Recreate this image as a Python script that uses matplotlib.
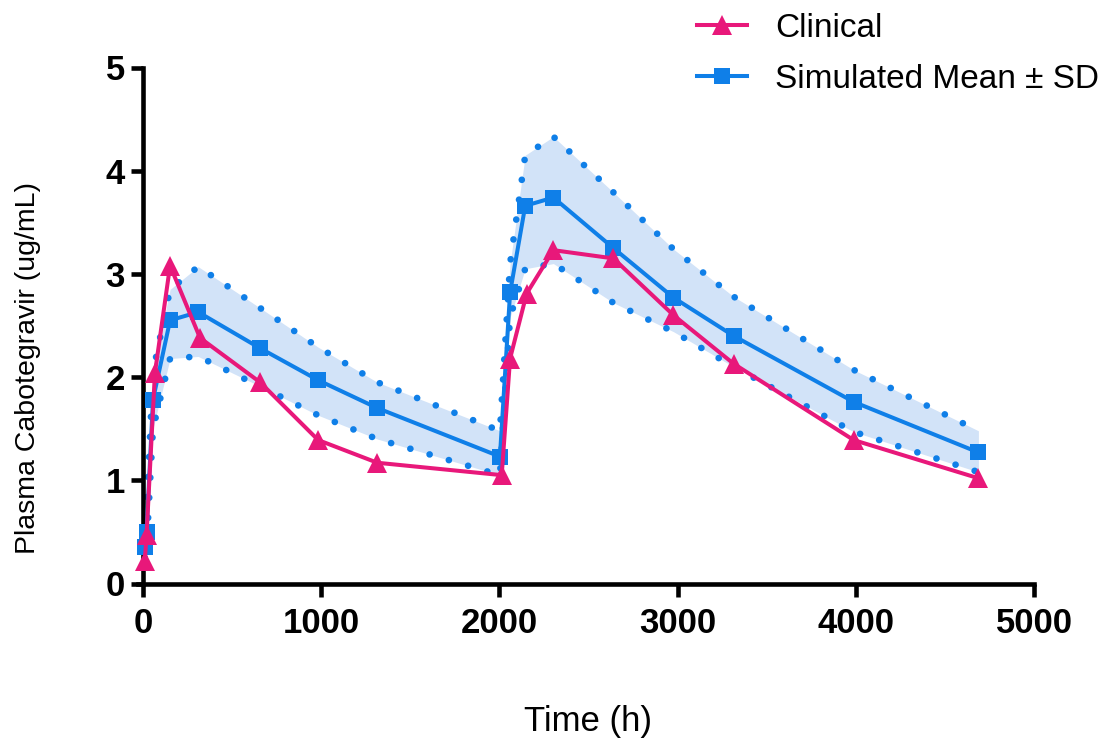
import matplotlib
matplotlib.use("Agg")
import matplotlib.pyplot as plt
from matplotlib.lines import Line2D

plt.rcParams['font.family'] = ['Liberation Sans', 'DejaVu Sans']

# ---- data ----
clin_t = [10, 20, 67, 152, 320, 657, 983, 1315, 2013, 2060, 2153, 2303, 2640, 2977, 3314, 3988, 4688]
clin_v = [0.22, 0.47, 2.04, 3.08, 2.38, 1.95, 1.39, 1.17, 1.05, 2.18, 2.81, 3.23, 3.15, 2.60, 2.13, 1.39, 1.02]

sim_t = [10, 20, 56, 152, 310, 657, 983, 1315, 2003, 2060, 2145, 2303, 2640, 2977, 3314, 3988, 4688]
sim_mean = [0.35, 0.50, 1.78, 2.55, 2.63, 2.28, 1.97, 1.70, 1.23, 2.82, 3.66, 3.74, 3.25, 2.77, 2.40, 1.76, 1.27]
sim_upper = [0.45, 0.70, 2.05, 2.85, 3.07, 2.67, 2.29, 1.95, 1.48, 3.10, 4.15, 4.33, 3.79, 3.24, 2.78, 2.07, 1.48]
sim_lower = [0.25, 0.35, 1.50, 2.18, 2.20, 1.91, 1.63, 1.40, 1.05, 2.58, 3.05, 3.10, 2.72, 2.44, 2.10, 1.47, 1.08]

x_ticks = [0, 1000, 2000, 3000, 4000, 5000]
y_ticks = [0, 1, 2, 3, 4, 5]

PINK = '#e8187a'
BLUE = '#0f7fe8'
FILL = '#d2e3f8'

W, H = 1104, 740
fig = plt.figure(figsize=(W / 100, H / 100), dpi=100)
ax = fig.add_axes([138 / W, 1 - 583.5 / H, (1034 - 138) / W, (583.5 - 67.5) / H])

ax.fill_between(sim_t, sim_lower, sim_upper, color=FILL, lw=0, zorder=1)
dot = (0, (0.01, 3.0))
for band in (sim_upper, sim_lower):
    ax.plot(sim_t, band, color=BLUE, lw=4.8, linestyle=dot, dash_capstyle='round',
            zorder=2, clip_on=False)
ax.plot(sim_t, sim_mean, color=BLUE, lw=2.9, marker='s', markersize=11,
        markeredgewidth=0, zorder=3, clip_on=False)
ax.plot(clin_t, clin_v, color=PINK, lw=2.9, marker='^', markersize=15,
        markeredgewidth=0, zorder=4, clip_on=False)

ax.set_xlim(-28, 5000)
ax.set_ylim(0, 5)
ax.spines['left'].set_position(('data', 0))
for s in ('top', 'right'):
    ax.spines[s].set_visible(False)
for s in ('left', 'bottom'):
    ax.spines[s].set_linewidth(3.3)
ax.set_xticks(x_ticks)
ax.set_yticks(y_ticks)
ax.set_xticklabels([str(v) for v in x_ticks])
ax.set_yticklabels([str(v) for v in y_ticks])
ax.tick_params(direction='out', length=9, width=3.3, labelsize=25)
ax.tick_params(axis='x', pad=8)
ax.tick_params(axis='y', pad=4)
for lab in ax.get_xticklabels() + ax.get_yticklabels():
    lab.set_fontweight('bold')

fig.text(588 / W, 1 - 722 / H, 'Time (h)', fontsize=25, ha='center', va='center')
fig.text(28 / W, 1 - 368 / H, 'Plasma Cabotegravir (ug/mL)', fontsize=20.5,
         rotation=90, ha='center', va='center')

handles = [
    Line2D([], [], color=PINK, lw=2.9, marker='^', markersize=15, markeredgewidth=0),
    Line2D([], [], color=BLUE, lw=2.9, marker='s', markersize=11, markeredgewidth=0),
]
fig.legend(handles, ['Clinical', 'Simulated Mean \u00b1 SD'], loc='upper left',
           bbox_to_anchor=(697 / W, 1 - 13 / H), frameon=False, fontsize=24,
           handlelength=1.5, handletextpad=0.85, labelspacing=0.59, borderpad=0,
           borderaxespad=0)

fig.savefig('out.png', dpi=100)
